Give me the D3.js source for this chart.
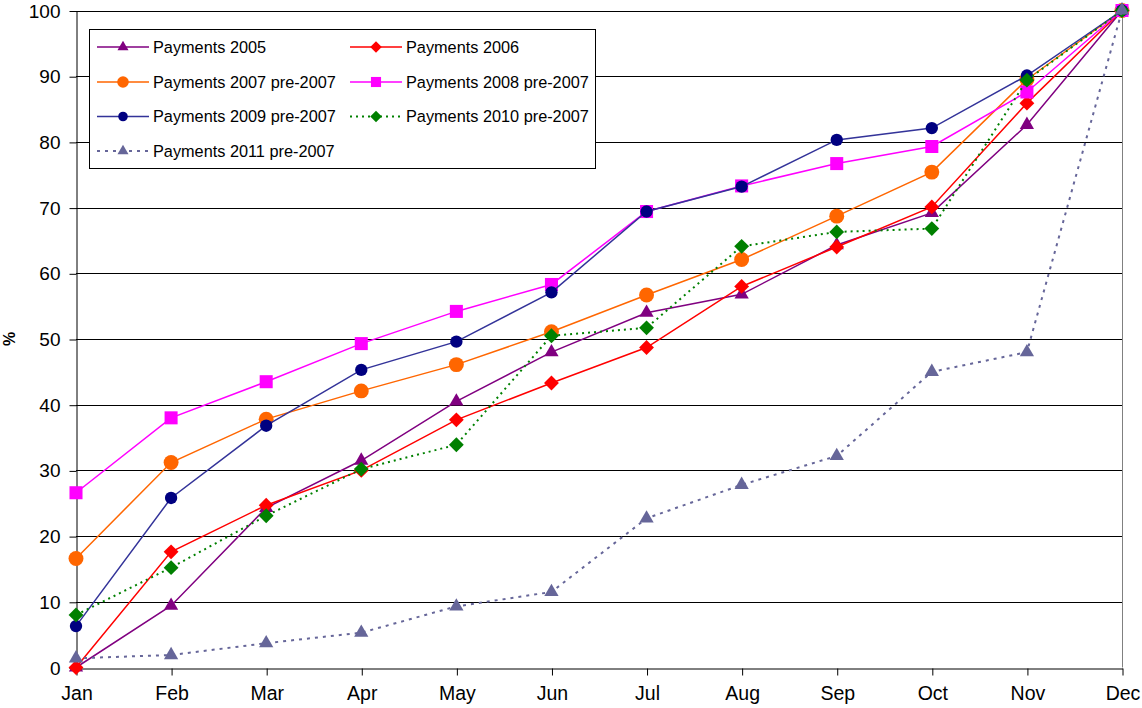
<!DOCTYPE html>
<html>
<head>
<meta charset="utf-8">
<script src="https://cdn.jsdelivr.net/npm/d3@7"></script>
<style>
  html, body { margin: 0; padding: 0; background: #fff; }
  svg { display: block; font-family: "Liberation Sans", Arial, sans-serif; }
</style>
</head>
<body>
<div id="chart"></div>
<script>
const months = ["Jan", "Feb", "Mar", "Apr", "May", "Jun", "Jul", "Aug", "Sep", "Oct", "Nov", "Dec"];
const yTicks = [0, 10, 20, 30, 40, 50, 60, 70, 80, 90, 100];

const pay2005 = [0, 9.4, 24.3, 31.5, 40.5, 48, 54, 56.8, 64.3, 69.2, 82.6, 100];
const pay2006 = [0, 17.6, 24.7, 30, 37.7, 43.3, 48.7, 58, 64, 70.1, 85.9, 100];
const pay2007 = [16.6, 31.2, 37.8, 42.1, 46.1, 51.1, 56.7, 62.1, 68.7, 75.4, 89.5, 100];
const pay2008 = [26.6, 38, 43.5, 49.3, 54.2, 58.3, 69.4, 73.3, 76.7, 79.3, 87.6, 100];
const pay2009 = [6.3, 25.8, 36.8, 45.3, 49.6, 57.1, 69.4, 73.2, 80.3, 82.1, 90.1, 100];
const pay2010 = [8, 15.2, 23.1, 30.2, 33.9, 50.5, 51.7, 64.1, 66.3, 66.8, 89.4, 100];
const pay2011 = [1.4, 1.9, 3.7, 5.3, 9.3, 11.5, 22.7, 27.8, 32.2, 45, 48, 100];

const seriesNames = [
  "Payments 2005", "Payments 2006", "Payments 2007 pre-2007", "Payments 2008 pre-2007",
  "Payments 2009 pre-2007", "Payments 2010 pre-2007", "Payments 2011 pre-2007"
];
const seriesValues = [pay2005, pay2006, pay2007, pay2008, pay2009, pay2010, pay2011];

const styles = [
  { line: "#800080", fill: "#800080", shape: "triangle", dash: null, size: 88 },
  { line: "#FF0000", fill: "#FF0000", shape: "diamond", dash: null, size: 110 },
  { line: "#FF6600", fill: "#FF6600", shape: "circle", dash: null, size: 175 },
  { line: "#FF00FF", fill: "#FF00FF", shape: "square", dash: null, size: 170 },
  { line: "#333399", fill: "#000080", shape: "circle", dash: null, size: 120 },
  { line: "#008000", fill: "#008000", shape: "diamond", dash: "2,4", size: 110 },
  { line: "#666699", fill: "#666699", shape: "triangle", dash: "3,5", size: 88 }
];

const width = 1142, height = 708;
const plot = { left: 76, right: 1122, top: 10.5, bottom: 667.5 };

const svg = d3.select("#chart").append("svg")
  .attr("width", width)
  .attr("height", height);

const x = d3.scalePoint().domain(months).range([plot.left, plot.right]);
const y = d3.scaleLinear().domain([0, 100]).range([plot.bottom, plot.top]);

const shapeFor = {
  triangle: d3.symbolTriangle,
  circle: d3.symbolCircle,
  square: d3.symbolSquare,
  diamond: d3.symbolSquare
};

const markerPath = (st, scale) =>
  d3.symbol().type(shapeFor[st.shape]).size(st.size * scale)();

// gridlines
svg.append("g")
  .selectAll("line")
  .data(yTicks.filter(t => t > 0))
  .join("line")
  .attr("x1", plot.left)
  .attr("x2", plot.right)
  .attr("y1", d => Math.round(y(d)) + 0.5)
  .attr("y2", d => Math.round(y(d)) + 0.5)
  .attr("stroke", "#000")
  .attr("stroke-width", 1);

// right border
svg.append("line")
  .attr("x1", plot.right + 0.5).attr("x2", plot.right + 0.5)
  .attr("y1", plot.top).attr("y2", plot.bottom)
  .attr("stroke", "#808080");

// axes
const yAxis = svg.append("g")
  .attr("transform", `translate(${plot.left + 0.5},0.5)`)
  .call(d3.axisLeft(y).tickValues(yTicks).tickSize(7).tickPadding(9).tickSizeOuter(0));
yAxis.selectAll("text").attr("font-size", 19).attr("fill", "#000")
  .attr("font-family", "Liberation Sans, Arial, sans-serif");
yAxis.selectAll("path, line").attr("stroke", "#000");

const xAxis = svg.append("g")
  .attr("transform", `translate(0.5,${Math.round(plot.bottom) + 0.5})`)
  .call(d3.axisBottom(x).tickSize(7).tickPadding(11).tickSizeOuter(0));
xAxis.selectAll("text").attr("font-size", 19.5).attr("fill", "#000")
  .attr("font-family", "Liberation Sans, Arial, sans-serif");
xAxis.selectAll("path, line").attr("stroke", "#000");

svg.append("text")
  .attr("transform", "translate(15,339) rotate(-90)")
  .attr("text-anchor", "middle")
  .attr("font-size", 16)
  .attr("font-weight", "bold")
  .text("%");

// series
const line = d3.line()
  .x((d, i) => x(months[i]))
  .y(d => y(d));

seriesValues.forEach((vals, si) => {
  const st = styles[si];
  const g = svg.append("g");
  g.append("path")
    .attr("d", line(vals))
    .attr("fill", "none")
    .attr("stroke", st.line)
    .attr("stroke-width", st.dash ? 2 : 1.5)
    .attr("stroke-dasharray", st.dash);
  g.selectAll("path.mk")
    .data(vals)
    .join("path")
    .attr("class", "mk")
    .attr("d", markerPath(st, 1))
    .attr("transform", (d, i) =>
      `translate(${x(months[i])},${y(d)})` + (st.shape === "diamond" ? " rotate(45)" : ""))
    .attr("fill", st.fill);
});

// legend
const legend = svg.append("g");
legend.append("rect")
  .attr("x", 89.5).attr("y", 29.5)
  .attr("width", 506).attr("height", 139)
  .attr("fill", "#fff")
  .attr("stroke", "#000");

const legendRows = [47, 82, 116.5, 151];
const legendCols = [97, 350];

seriesNames.forEach((name, i) => {
  const st = styles[i];
  const cx = legendCols[i % 2];
  const cy = legendRows[Math.floor(i / 2)];
  const item = legend.append("g").attr("transform", `translate(${cx},${cy})`);
  item.append("line")
    .attr("x1", 0).attr("x2", 52)
    .attr("y1", 0).attr("y2", 0)
    .attr("stroke", st.line)
    .attr("stroke-width", st.dash ? 2 : 1.5)
    .attr("stroke-dasharray", st.dash);
  item.append("path")
    .attr("d", markerPath(st, 0.6))
    .attr("transform", "translate(26,0)" + (st.shape === "diamond" ? " rotate(45)" : ""))
    .attr("fill", st.fill);
  item.append("text")
    .attr("x", 56)
    .attr("y", 5.5)
    .attr("font-size", 16.3)
    .attr("fill", "#000")
    .text(name);
});
</script>
</body>
</html>
